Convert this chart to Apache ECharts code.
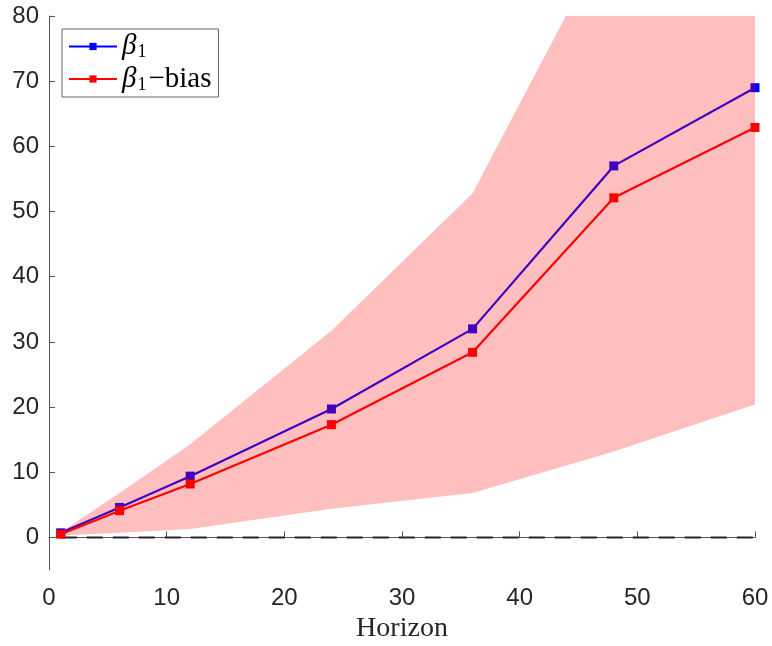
<!DOCTYPE html>
<html>
<head>
<meta charset="utf-8">
<script src="https://cdn.jsdelivr.net/npm/echarts@6/dist/echarts.min.js"></script>
<style>
  html, body { margin: 0; padding: 0; background: #fff; }
  #chart { width: 772px; height: 646px; }
</style>
</head>
<body>
<div id="chart"></div>
<script>
// horizons (months) and point estimates
const horizons = [1, 6, 12, 24, 36, 48, 60];
const beta1 = [0.7, 4.6, 9.4, 19.7, 32.0, 57.0, 69.0];
const beta1Bias = [0.5, 4.1, 8.2, 17.3, 28.4, 52.1, 62.9];
// confidence band edges (upper goes above the 80 limit past ~44)
const ciLower = [0.3, 0.7, 1.3, 4.4, 6.8, 13.2, 20.4];
const ciUpper = [0.8, 6.8, 14.3, 31.7, 52.8, 94.0, 115.0];
const yTicks = [0, 10, 20, 30, 40, 50, 60, 70, 80];

const axisColor = '#555';
const textColor = '#262626';
const serif = '"Liberation Serif", "DejaVu Serif", serif';
const sans = '"Liberation Sans", Arial, sans-serif';

const pairs = (ys) => horizons.map((h, i) => [h, ys[i]]);

const chart = echarts.init(document.getElementById('chart'));

// whole band as one polygon, so the alpha fill has no seams
function renderBand(params, api) {
  if (params.dataIndex !== 0) return null;
  const pts = [];
  for (let i = 0; i < horizons.length; i++) pts.push(api.coord([horizons[i], ciUpper[i]]));
  for (let i = horizons.length - 1; i >= 0; i--) pts.push(api.coord([horizons[i], ciLower[i]]));
  return {
    type: 'polygon',
    shape: { points: pts },
    style: { fill: 'rgba(255, 0, 0, 0.25)', stroke: null }
  };
}

const option = {
  animation: false,
  backgroundColor: '#fff',
  grid: { left: 49, right: 17, top: 16, bottom: 76, outerBoundsMode: 'none' },
  legend: {
    data: ['b1', 'b1bias'],
    orient: 'vertical',
    left: 62,
    top: 29,
    padding: [3, 7, 3, 6],
    itemGap: 3,
    itemWidth: 48,
    itemHeight: 9,
    backgroundColor: '#fff',
    borderColor: '#666',
    borderWidth: 1,
    borderRadius: 0,
    formatter: (name) => name === 'b1' ? '{g|β}{s|1}' : '{g|β}{s|1}{t|−bias}',
    textStyle: {
      color: '#000',
      fontFamily: serif,
      fontSize: 28,
      rich: {
        g: { fontFamily: serif, fontStyle: 'italic', fontSize: 29, color: '#000' },
        s: { fontFamily: serif, fontSize: 18, color: '#000', padding: [12, 2, 0, 1] },
        t: { fontFamily: serif, fontSize: 29, color: '#000' }
      }
    }
  },
  xAxis: {
    type: 'value',
    min: 0,
    max: 60,
    interval: 10,
    name: 'Horizon',
    nameLocation: 'middle',
    nameGap: 45,
    nameTextStyle: { fontFamily: serif, fontSize: 28, color: textColor },
    axisLine: { show: true, lineStyle: { color: axisColor, width: 1 } },
    axisTick: { show: true, inside: true, length: 6, lineStyle: { color: axisColor } },
    axisLabel: { fontFamily: sans, fontSize: 24, color: textColor, margin: 16 },
    splitLine: { show: false }
  },
  yAxis: {
    type: 'value',
    min: -5,
    max: 80,
    axisLine: { show: true, lineStyle: { color: axisColor, width: 1 } },
    axisTick: { show: true, inside: true, length: 6, lineStyle: { color: axisColor }, customValues: yTicks },
    axisLabel: { fontFamily: sans, fontSize: 24, color: textColor, margin: 10, customValues: yTicks },
    splitLine: { show: false }
  },
  series: [
    {
      name: 'zero',
      type: 'line',
      data: pairs(horizons.map(() => 0)),
      symbol: 'none',
      lineStyle: { color: '#262626', width: 2, type: [16, 10] },
      z: 1,
      silent: true
    },
    {
      name: 'b1',
      type: 'line',
      data: pairs(beta1),
      color: '#0000ff',
      symbol: 'rect',
      symbolSize: 9,
      itemStyle: { color: '#0000ff' },
      lineStyle: { color: '#0000ff', width: 2.2 },
      z: 2
    },
    {
      name: 'b1bias',
      type: 'line',
      data: pairs(beta1Bias),
      color: '#ff0000',
      symbol: 'rect',
      symbolSize: 9,
      itemStyle: { color: '#ff0000' },
      lineStyle: { color: '#ff0000', width: 2.2 },
      z: 2
    },
    {
      name: 'ci',
      type: 'custom',
      data: horizons.map((h, i) => [h, ciLower[i], ciUpper[i]]),
      encode: { x: 0, y: [1, 2] },
      renderItem: renderBand,
      clip: true,
      silent: true,
      z: 3
    }
  ]
};

chart.setOption(option);
</script>
</body>
</html>
